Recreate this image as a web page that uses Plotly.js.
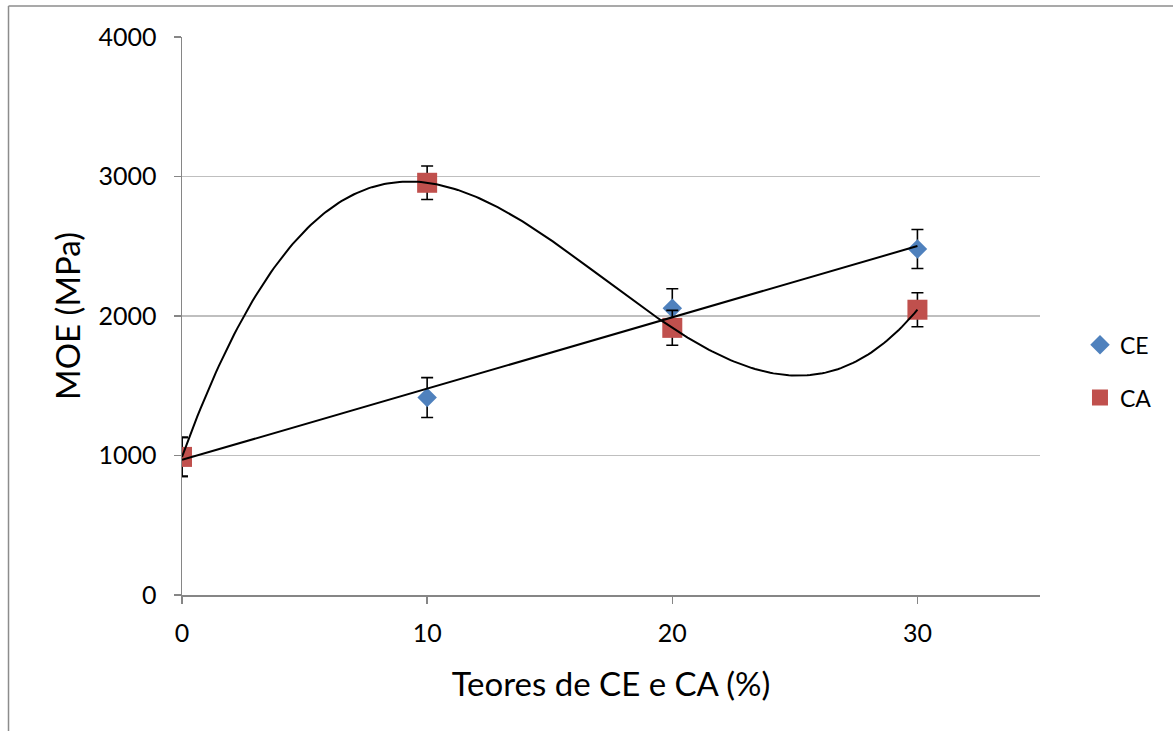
<!DOCTYPE html>
<html>
<head>
<meta charset="utf-8">
<script src="https://cdn.plot.ly/plotly-3.0.1.min.js"></script>
<style>html,body{margin:0;padding:0;background:#fff;}#chart{width:1173px;height:731px;}</style>
</head>
<body>
<div id="chart"></div>
<script>
// Data
const teores = [0, 10, 20, 30];
const ceMOE = [990, 1415, 2055, 2480];
const ceErr = [140, 143, 140, 140];
const caMOE = [990, 2955, 1915, 2045];
const caErr = [140, 120, 125, 122];
const xTicks = [0, 10, 20, 30];
const yTicks = [0, 1000, 2000, 3000, 4000];

// Linear trendline (least squares) for CE
function linFit(xs, ys) {
  const n = xs.length;
  const mx = xs.reduce((a, b) => a + b, 0) / n;
  const my = ys.reduce((a, b) => a + b, 0) / n;
  let sxy = 0, sxx = 0;
  for (let i = 0; i < n; i++) { sxy += (xs[i] - mx) * (ys[i] - my); sxx += (xs[i] - mx) ** 2; }
  const b = sxy / sxx, a = my - b * mx;
  return x => a + b * x;
}
// Cubic polynomial trendline (4 points -> exact Lagrange fit) for CA
function polyFit(xs, ys) {
  return x => {
    let s = 0;
    for (let i = 0; i < xs.length; i++) {
      let t = ys[i];
      for (let j = 0; j < xs.length; j++) if (j !== i) t *= (x - xs[j]) / (xs[i] - xs[j]);
      s += t;
    }
    return s;
  };
}
const fCE = linFit(teores, ceMOE);
const fCA = polyFit(teores, caMOE);
const xMin = Math.min(...teores), xMax = Math.max(...teores);
const trendX = [];
for (let i = 0; i <= 240; i++) trendX.push(xMin + (xMax - xMin) * i / 240);

const errStyle = { type: 'data', visible: true, color: '#000000', thickness: 1.6, width: 6 };

const traces = [
  { x: teores, y: ceMOE, type: 'scatter', mode: 'markers', name: 'CE', legendgroup: 'ce',
    marker: { symbol: 'diamond', size: 15, color: '#4F81BD' },
    error_y: Object.assign({ array: ceErr }, errStyle) },
  { x: teores, y: caMOE, type: 'scatter', mode: 'markers', name: 'CA', legendgroup: 'ca',
    marker: { symbol: 'square', size: 20, color: '#C0504D' },
    error_y: Object.assign({ array: caErr }, errStyle) },
  { x: [xMin, xMax], y: [fCE(xMin), fCE(xMax)], type: 'scatter', mode: 'lines', showlegend: false,
    line: { color: '#000000', width: 2 }, hoverinfo: 'skip' },
  { x: trendX, y: trendX.map(fCA), type: 'scatter', mode: 'lines', showlegend: false,
    line: { color: '#000000', width: 2 }, hoverinfo: 'skip' }
];

const FONT = 'Lato, "Open Sans", sans-serif';
const layout = {
  width: 1173, height: 731,
  margin: { l: 182, r: 133, t: 37, b: 136 },
  paper_bgcolor: '#ffffff', plot_bgcolor: '#ffffff',
  font: { family: FONT, color: '#000000' },
  xaxis: {
    range: [0, 35], tickvals: xTicks, ticktext: xTicks.map(String),
    showgrid: false, zeroline: false, showline: true, linecolor: '#868686', linewidth: 1.5,
    ticks: 'outside', ticklen: 7, tickcolor: '#868686', tickwidth: 1.5, ticklabelstandoff: 8,
    tickfont: { size: 25, family: FONT, color: '#000' },
    title: { text: 'Teores de CE e CA (%)', font: { size: 33, family: FONT, color: '#000' }, standoff: 27 }
  },
  yaxis: {
    range: [0, 4000], tickvals: yTicks, ticktext: yTicks.map(String),
    showgrid: true, gridcolor: '#BFBFBF', gridwidth: 1.5, zeroline: false,
    showline: true, linecolor: '#868686', linewidth: 1.5,
    ticks: 'outside', ticklen: 7, tickcolor: '#868686', tickwidth: 1.5, ticklabelstandoff: 12,
    tickfont: { size: 25, family: FONT, color: '#000' },
    title: { text: 'MOE (MPa)', font: { size: 33, family: FONT, color: '#000' }, standoff: 8 }
  },
  showlegend: true,
  legend: { x: 1.0466, y: 0.401, xanchor: 'left', yanchor: 'middle', font: { size: 23, family: FONT },
    tracegroupgap: 20, itemwidth: 30, bgcolor: 'rgba(0,0,0,0)' },
  shapes: [
    { type: 'line', xref: 'paper', yref: 'paper', x0: -0.2022, x1: -0.2022, y0: 1.0556, y1: -0.25,
      line: { color: '#8C8C8C', width: 1.5 } },
    { type: 'line', xref: 'paper', yref: 'paper', x0: -0.2022, x1: 1.16, y0: 1.0556, y1: 1.0556,
      line: { color: '#8C8C8C', width: 1.5 } }
  ]
};

Plotly.newPlot('chart', traces, layout, { displayModeBar: false, staticPlot: true });
</script>
</body>
</html>
